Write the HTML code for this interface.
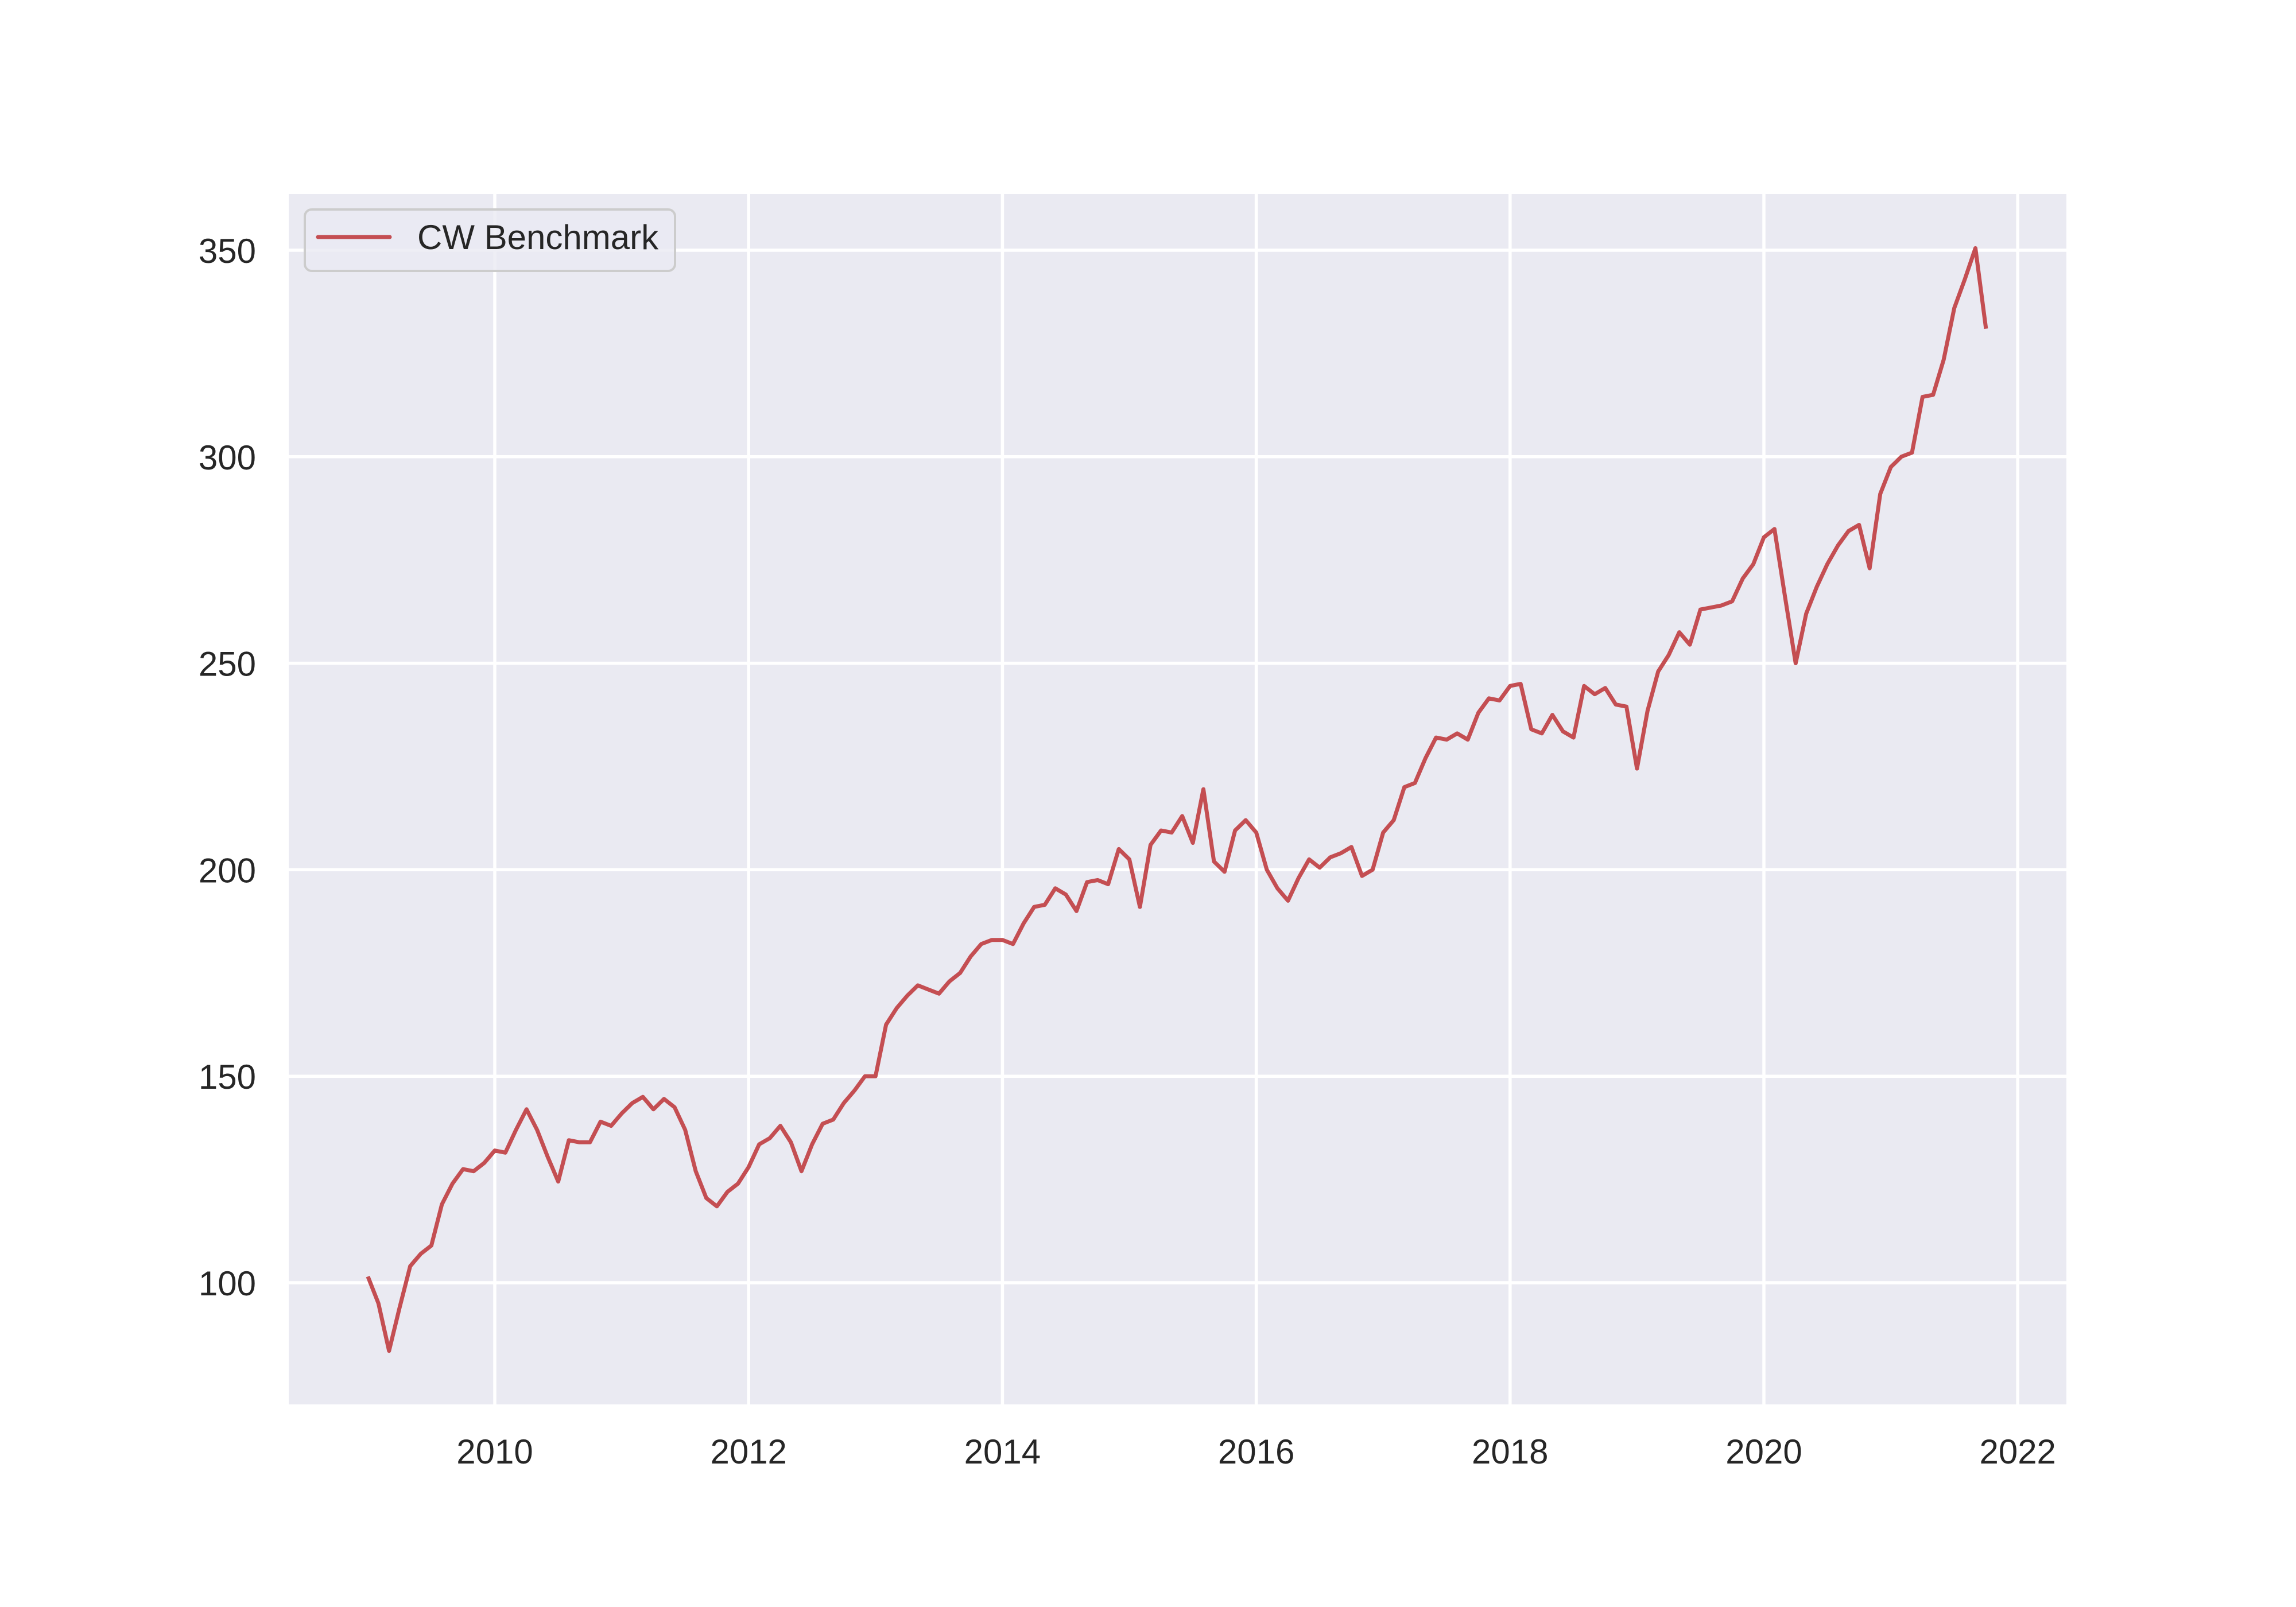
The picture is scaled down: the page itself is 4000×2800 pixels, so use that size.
<!DOCTYPE html>
<html><head><meta charset="utf-8"><style>
html,body{margin:0;padding:0;background:#fff;}
svg{display:block;}
text{font-family:"Liberation Sans",Arial,sans-serif;fill:#262626;}
</style></head>
<body>
<svg id="chart" xmlns="http://www.w3.org/2000/svg" width="4000" height="2800" viewBox="0 0 4000 2800">
<rect x="0" y="0" width="4000" height="2800" fill="#ffffff"/>
<rect x="503" y="338" width="3097" height="2109" fill="#EAEAF2"/>
<g id="grid"></g>
<g id="ticks"></g>
<path id="series" fill="none" stroke="#C44E52" stroke-width="7" stroke-linejoin="round" stroke-linecap="butt"/>
<g>
<rect x="531" y="365" width="645" height="107" rx="12" ry="12" fill="#EAEAF2" fill-opacity="0.8" stroke="#cccccc" stroke-width="4"/>
<line x1="554" y1="413" x2="679" y2="413" stroke="#C44E52" stroke-width="7" stroke-linecap="round"/>
<text x="727" y="434" font-size="60">CW Benchmark</text>
</g>
</svg>
<script>
const startYear = 2009;
const xTicks = [2010, 2012, 2014, 2016, 2018, 2020, 2022];
const yTicks = [100, 150, 200, 250, 300, 350];
const values = [
101.5,95,83.5,94,104,107,109,119,124,127.5,127,129,
132,131.5,137,142,137,130.5,124.5,134.5,134,134,139,138,
141,143.5,145,142,144.5,142.5,137,127,120.5,118.5,122,124,
128,133.5,135,138,134,127,133.5,138.5,139.5,143.5,146.5,150,
150,162.5,166.5,169.5,172,171,170,173,175,179,182,183,
183,182,187,191,191.5,195.5,194,190,197,197.5,196.5,205,
202.5,191,206,209.5,209,213,206.5,219.5,202,199.5,209.5,212,
209,200,195.5,192.5,198,202.5,200.5,203,204,205.5,198.5,200,
209,212,220,221,227,232,231.5,233,231.5,238,241.5,241,
244.5,245,234,233,237.5,233.5,232,244.5,242.5,244,240,239.5,
224.5,238.5,248,252,257.5,254.5,263,263.5,264,265,270.5,274,
280.5,282.5,266,250,262,268.5,274,278.5,282,283.5,273,291,
297.5,300,301,314.5,315,323.5,336,343,350.5,331
];
const NS='http://www.w3.org/2000/svg';
const L=503,R=3600,T=338,B=2447;
function xs(yr){return 862+(yr-2010)*221.1;}
function ys(v){return 2235-(v-100)*7.196;}
const grid=document.getElementById('grid'), ticks=document.getElementById('ticks');
xTicks.forEach(t=>{
  const ln=document.createElementNS(NS,'line');
  ln.setAttribute('x1',xs(t));ln.setAttribute('x2',xs(t));ln.setAttribute('y1',T);ln.setAttribute('y2',B);
  ln.setAttribute('stroke','#ffffff');ln.setAttribute('stroke-width','5.5');
  
  
  grid.appendChild(ln);
  const tx=document.createElementNS(NS,'text');
  tx.setAttribute('x',xs(t));tx.setAttribute('y',2550);tx.setAttribute('font-size','60');tx.setAttribute('text-anchor','middle');
  tx.textContent=t;
  
  
  ticks.appendChild(tx);
});
yTicks.forEach(t=>{
  const ln=document.createElementNS(NS,'line');
  ln.setAttribute('x1',L);ln.setAttribute('x2',R);ln.setAttribute('y1',ys(t));ln.setAttribute('y2',ys(t));
  ln.setAttribute('stroke','#ffffff');ln.setAttribute('stroke-width','5.5');
  
  
  grid.appendChild(ln);
  const tx=document.createElementNS(NS,'text');
  tx.setAttribute('x',446);tx.setAttribute('y',ys(t)+22);tx.setAttribute('font-size','60');tx.setAttribute('text-anchor','end');
  tx.textContent=t;
  
  
  ticks.appendChild(tx);
});
let d='';
values.forEach((v,i)=>{d+=(i?'L':'M')+xs(startYear+i/12).toFixed(1)+' '+ys(v).toFixed(1);});
document.getElementById('series').setAttribute('d',d);
</script>
</body></html>
